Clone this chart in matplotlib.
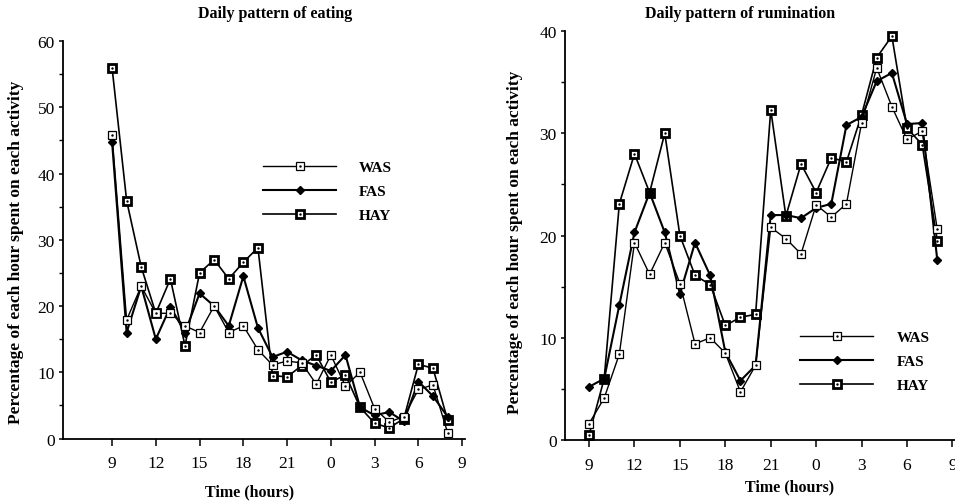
import matplotlib.pyplot as plt
from matplotlib.legend_handler import HandlerTuple

plt.rcParams['font.family'] = ['Liberation Serif', 'DejaVu Serif']

# hours of the day, counted on from 9 am so the night does not wrap
hours = list(range(9, 33))
tick_pos = [9, 12, 15, 18, 21, 24, 27, 30, 33]
tick_lab = ['9', '12', '15', '18', '21', '0', '3', '6', '9']

eat_was = [45.8, 17.9, 23.0, 18.9, 18.9, 17.0, 16.0, 20.0, 16.0, 17.0, 13.4, 11.1,
           11.7, 11.4, 8.2, 12.6, 7.9, 10.0, 4.5, 2.5, 3.3, 7.4, 8.1, 0.9]
eat_fas = [44.8, 16.0, 23.0, 15.0, 19.9, 16.0, 21.9, 20.0, 17.0, 24.5, 16.7, 12.3,
           13.1, 11.8, 11.0, 10.2, 12.6, 4.7, 3.5, 4.0, 2.6, 8.6, 6.4, 3.3]
eat_hay = [56.0, 35.9, 25.9, 18.9, 24.1, 14.0, 25.0, 27.0, 24.1, 26.6, 28.8, 9.5,
           9.3, 11.0, 12.6, 8.5, 9.6, 4.7, 2.3, 1.6, 3.0, 11.2, 10.6, 2.8]

rum_was = [1.6, 4.1, 8.4, 19.3, 16.2, 19.3, 15.3, 9.4, 10.0, 8.5, 4.7, 7.3,
           20.8, 19.7, 18.2, 23.0, 21.8, 23.1, 31.0, 36.4, 32.6, 29.4, 30.2, 20.6]
rum_fas = [5.2, 6.0, 13.2, 20.3, 24.2, 20.3, 14.3, 19.3, 16.1, 8.6, 5.8, 7.3,
           22.0, 22.0, 21.7, 22.7, 23.1, 30.8, 31.6, 35.1, 35.9, 30.9, 31.0, 17.6]
rum_hay = [0.5, 6.0, 23.1, 28.0, 24.2, 30.0, 20.0, 16.1, 15.2, 11.2, 12.0, 12.3,
           32.3, 21.9, 27.0, 24.2, 27.6, 27.2, 31.8, 37.4, 39.5, 30.5, 28.9, 19.5]

labels = ['WAS', 'FAS', 'HAY']


def draw_panel(ax, was, fas, hay, ymax, xlim):
    h_hay, = ax.plot(hours, hay, '-s', color='black', lw=1.2, ms=5.5,
                     mfc='white', mec='black', mew=2.0, zorder=2)
    d_hay, = ax.plot(hours, hay, '.', color='black', ms=1.5, zorder=2.1)
    h_fas, = ax.plot(hours, fas, '-D', color='black', lw=1.5, ms=4.2,
                     mfc='black', mec='black', zorder=3)
    h_was, = ax.plot(hours, was, '-s', color='black', lw=1.0, ms=5.5,
                     mfc='white', mec='black', mew=0.9, zorder=4)
    d_was, = ax.plot(hours, was, '.', color='black', ms=1.5, zorder=4.1)

    ax.set_xlim(*xlim)
    ax.set_ylim(0, ymax)
    ax.set_xticks(tick_pos)
    ax.set_xticklabels(tick_lab)
    ax.set_yticks(range(0, ymax + 1, 10))
    ax.set_yticks(range(5, ymax, 10), minor=True)
    ax.spines['top'].set_visible(False)
    ax.spines['right'].set_visible(False)
    ax.spines['left'].set_linewidth(1.3)
    ax.spines['bottom'].set_linewidth(1.3)
    ax.tick_params(axis='both', which='major', labelsize=12.5, length=5,
                   width=1.1, direction='out')
    ax.tick_params(axis='x', which='major', pad=7)
    ax.tick_params(axis='y', which='major', length=3, pad=3)
    ax.tick_params(axis='y', which='minor', length=3, width=1.0)
    ax.set_xlabel('Time (hours)', fontsize=11.5, fontweight='bold')
    ax.set_ylabel('Percentage of each hour spent on each activity',
                  fontsize=12.5, fontweight='bold')
    return [(h_was, d_was), h_fas, (h_hay, d_hay)]


def add_legend(ax, handles, anchor):
    ax.legend(handles, labels, loc='upper left', bbox_to_anchor=anchor,
              frameon=False, handlelength=4.8, handletextpad=1.5,
              labelspacing=0.68, borderpad=0, borderaxespad=0,
              prop={'weight': 'bold', 'size': 11},
              handler_map={tuple: HandlerTuple(ndivide=1, pad=0)})


def main():
    fig = plt.figure(figsize=(9.55, 5.02), dpi=100)

    ax1 = fig.add_axes([0.066, 0.1245, 0.421, 0.7918])
    hd1 = draw_panel(ax1, eat_was, eat_fas, eat_hay, 60, (5.64, 33.2))
    add_legend(ax1, hd1, (0.497, 0.70))
    ax1.xaxis.set_label_coords(0.463, -0.112)
    ax1.yaxis.set_label_coords(-0.097, 0.472)
    fig.text(0.288, 0.972, 'Daily pattern of eating', ha='center', va='center',
             fontsize=11.5, fontweight='bold')

    ax2 = fig.add_axes([0.5916, 0.1215, 0.4084, 0.8147])
    hd2 = draw_panel(ax2, rum_was, rum_fas, rum_hay, 40, (7.41, 33.17))
    add_legend(ax2, hd2, (0.603, 0.268))
    ax2.xaxis.set_label_coords(0.577, -0.093)
    ax2.yaxis.set_label_coords(-0.108, 0.485)
    fig.text(0.775, 0.972, 'Daily pattern of rumination', ha='center', va='center',
             fontsize=11.5, fontweight='bold')

    fig.savefig('out.png', dpi=100)


if __name__ == '__main__':
    main()
